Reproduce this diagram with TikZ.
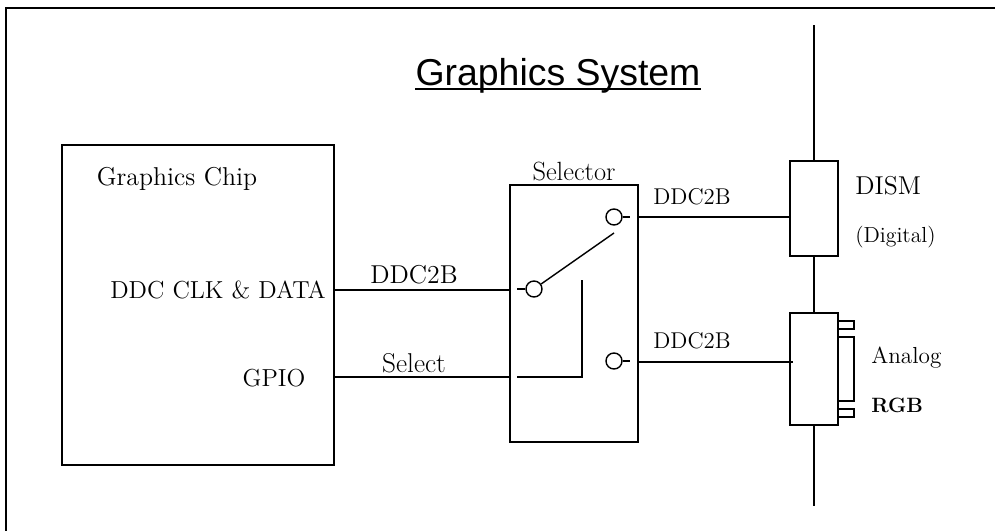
\documentclass[tikz,border=0pt]{standalone}
\usepackage{fontspec}
\usepackage{tikz}
\usetikzlibrary{positioning, calc}
\newfontfamily\titlefont{Liberation Sans}
\tikzset{
  sysline/.style={line width=0.8pt},
  blockbox/.style={draw, line width=0.8pt, inner sep=0pt, fill=white},
  pinring/.style={draw, circle, line width=0.8pt, inner sep=0pt, minimum size=0.32cm},
  lbl/.style={inner sep=0pt, font=\fontsize{14}{16}\selectfont},
  widelbl/.style={inner sep=0pt, font=\fontsize{14.7}{16}\selectfont},
  smalllbl/.style={inner sep=0pt, font=\fontsize{12.4}{14}\selectfont}
}
\begin{document}
\begin{tikzpicture}[x=0.02cm,y=-0.02cm]
        \useasboundingbox (0,0) rectangle (995,531);

        % outer frame runs off the page
        \coordinate (framebl) at (6,531);
        \coordinate (frametl) at (6,8);
        \coordinate (frametr) at (995,8);
        \draw[line width=0.9pt] (framebl) -- (frametl) -- (frametr);

        \node[inner sep=0pt, anchor=base, font=\titlefont\fontsize{21.3}{24}\selectfont] (title) at (558,85) {Graphics System};
        \draw[line width=0.9pt] ($(title.base west)+(0,4)$) -- ($(title.base east)+(0,4)$);

        % vertical bus
        \coordinate (bustop) at (814,25);
        \coordinate (busbot) at (814,506);
        \draw[sysline] (bustop) -- (busbot);

        % blocks
        \node[blockbox, minimum width=5.44cm, minimum height=6.4cm] (chip) at (198,305) {};
        \node[blockbox, minimum width=2.56cm, minimum height=5.14cm] (selector) at (574,313.5) {};
        \node[blockbox, minimum width=0.96cm, minimum height=1.9cm] (dism) at (814,208.5) {};
        \node[blockbox, minimum width=0.96cm, minimum height=2.24cm] (rgbconn) at (814,369) {};

        % connector tabs
        \foreach \name/\ypos/\hgt in {tabup/325/0.16cm, tabmid/369/1.28cm, tablow/413/0.16cm} {
          \node[blockbox, minimum width=0.32cm, minimum height=\hgt] (\name) at (846,\ypos) {};
        }

        % pins on block edges
        \coordinate (chipddc) at (chip.east |- 0,290);
        \coordinate (chipgpio) at (chip.east |- 0,377);
        \coordinate (selddc) at (selector.west |- 0,290);
        \coordinate (selgpio) at (selector.west |- 0,377);
        \coordinate (selout) at (selector.east |- 0,217);
        \coordinate (selrgb) at (selector.east |- 0,362);
        \coordinate (dismin) at (dism.west |- 0,217);
        \coordinate (rgbin) at (793,362);

        \draw[sysline] (chipddc) -- (selddc);
        \draw[sysline] (chipgpio) -- (selgpio);
        \draw[sysline] (selout) -- (dismin);
        \draw[sysline] (selrgb) -- (rgbin);

        % switch inside the selector
        \node[pinring] (swin) at (534,289) {};
        \node[pinring] (swup) at (614,217) {};
        \node[pinring] (swlow) at (614,361) {};
        \coordinate (stubin) at (517,289);
        \coordinate (stubup) at (630,217);
        \coordinate (stublow) at (630,361);
        \coordinate (armtip) at (614,233);
        \coordinate (gpioin) at (517,377);
        \coordinate (gpiocorner) at (582,377);
        \coordinate (gpiotop) at (582,280);
        \draw[sysline] (stubin) -- (swin);
        \draw[sysline] (swup) -- (stubup);
        \draw[sysline] (swlow) -- (stublow);
        \draw[sysline] (swin) -- (armtip);
        \draw[sysline] (gpioin) -- (gpiocorner) -- (gpiotop);

        % labels
        \node[widelbl] (chiplbl) at (177,179) {Graphics Chip};
        \node[lbl] (ddclbl) at (218,290) {DDC CLK \& DATA};
        \node[lbl] (gpiolbl) at (274,378) {GPIO};
        \node[widelbl] (ddcbus) at (414,275) {DDC2B};
        \node[inner sep=0pt, font=\fontsize{15.5}{17}\selectfont] (selbus) at (414,363) {Select};
        \node[inner sep=0pt, font=\fontsize{15}{17}\selectfont] (sellbl) at (574,171) {Selector};
        \node[inner sep=0pt, font=\fontsize{13}{15}\selectfont] (outup) at (692,197) {DDC2B};
        \node[inner sep=0pt, font=\fontsize{13}{15}\selectfont] (outlow) at (692,341) {DDC2B};
        \node[widelbl, anchor=west] (dismlbl) at (855,186) {DISM};
        \node[smalllbl, anchor=west] (diglbl) at (855,237) {(Digital)};
        \node[inner sep=0pt, anchor=west, font=\fontsize{13.2}{15}\selectfont] (analbl) at (871,358) {Analog};
        \node[inner sep=0pt, anchor=west, font=\fontsize{11.8}{14}\selectfont\bfseries] (rgblbl) at (871,405) {RGB};
\end{tikzpicture}
\end{document}
